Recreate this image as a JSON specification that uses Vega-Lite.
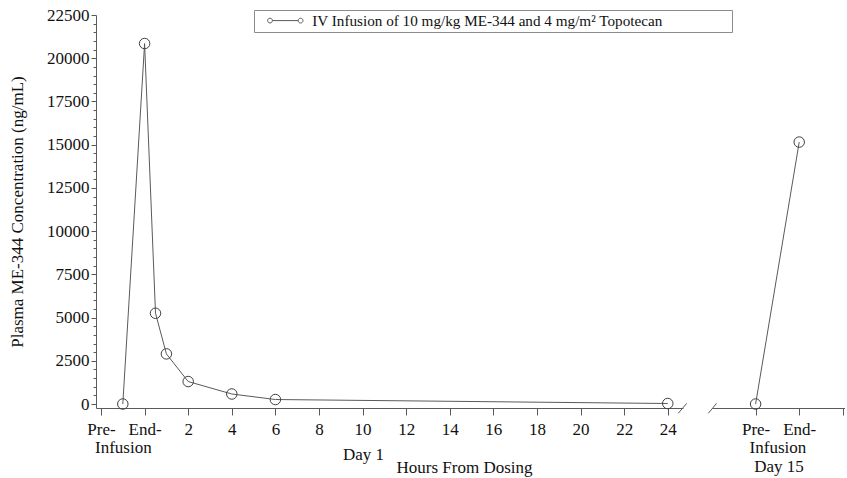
{
  "$schema": "https://vega.github.io/schema/vega-lite/v6.json",
  "padding": {"left": 8, "top": 6, "right": 0, "bottom": 12},
  "bounds": "flush",
  "spacing": 29,
  "config": {
    "view": {"stroke": null},
    "font": "Liberation Serif",
    "axis": {
      "grid": false,
      "domainColor": "#5a5a5a",
      "tickColor": "#5a5a5a",
      "labelFont": "Liberation Serif",
      "labelFontSize": 17,
      "labelColor": "#111111",
      "titleFont": "Liberation Serif",
      "titleFontSize": 17,
      "titleFontWeight": "normal",
      "titleColor": "#111111",
      "labelFlush": false,
      "labelOverlap": false
    }
  },
  "datasets": {
    "day1": [
      {"t": -1, "conc": 0, "series": "IV Infusion of 10 mg/kg ME-344 and 4 mg/m² Topotecan"},
      {"t": 0, "conc": 20850, "series": "IV Infusion of 10 mg/kg ME-344 and 4 mg/m² Topotecan"},
      {"t": 0.5, "conc": 5250, "series": "IV Infusion of 10 mg/kg ME-344 and 4 mg/m² Topotecan"},
      {"t": 1, "conc": 2900, "series": "IV Infusion of 10 mg/kg ME-344 and 4 mg/m² Topotecan"},
      {"t": 2, "conc": 1300, "series": "IV Infusion of 10 mg/kg ME-344 and 4 mg/m² Topotecan"},
      {"t": 4, "conc": 580, "series": "IV Infusion of 10 mg/kg ME-344 and 4 mg/m² Topotecan"},
      {"t": 6, "conc": 260, "series": "IV Infusion of 10 mg/kg ME-344 and 4 mg/m² Topotecan"},
      {"t": 24, "conc": 30, "series": "IV Infusion of 10 mg/kg ME-344 and 4 mg/m² Topotecan"}
    ],
    "day15": [
      {"t": 0, "conc": 0},
      {"t": 2, "conc": 15150}
    ],
    "break1": [{"x": 24.48, "x2": 24.87, "y": -540, "y2": 40}],
    "break15": [{"x": -2.17, "x2": -1.79, "y": -540, "y2": 40}]
  },
  "hconcat": [
    {
      "width": 587,
      "height": 393,
      "layer": [
        {
          "data": {"name": "day1"},
          "mark": {"type": "line", "strokeWidth": 1},
          "encoding": {
            "x": {
              "field": "t", "type": "quantitative",
              "scale": {"domain": [-2.23, 24.7], "nice": false, "zero": false},
              "axis": {
                "orient": "bottom",
                "values": [-2, 0, 2, 4, 6, 8, 10, 12, 14, 16, 18, 20, 22, 24],
                "labelExpr": "datum.value == -2 ? 'Pre-' : datum.value == 0 ? 'End-' : format(datum.value, 'd')",
                "tickSize": 7,
                "labelPadding": 6,
                "title": "Hours From Dosing",
                "titleX": 368,
                "titleY": 64,
                "titleBaseline": "alphabetic"
              }
            },
            "y": {
              "field": "conc", "type": "quantitative",
              "scale": {"domain": [-230, 22500], "nice": false, "zero": false},
              "axis": {
                "orient": "left",
                "values": [0, 2500, 5000, 7500, 10000, 12500, 15000, 17500, 20000, 22500],
                "format": "d",
                "tickSize": 5,
                "labelPadding": 2,
                "title": "Plasma ME-344 Concentration (ng/mL)",
                "titlePadding": 20
              }
            },
            "color": {
              "field": "series", "type": "nominal",
              "scale": {"range": ["#5a5a5a"]},
              "legend": {
                "orient": "none",
                "legendX": 158,
                "legendY": -5,
                "title": null,
                "strokeColor": "#8c8c8c",
                "padding": 3,
                "symbolType": "M-4.3,0L4.3,0M-4.3,0A0.8,0.8,0,1,1,-5.9,0A0.8,0.8,0,1,1,-4.3,0M5.9,0A0.8,0.8,0,1,1,4.3,0A0.8,0.8,0,1,1,5.9,0",
                "symbolSize": 36,
                "symbolStrokeColor": "#5a5a5a",
                "symbolFillColor": "transparent",
                "symbolStrokeWidth": 1,
                "symbolOffset": 20.7,
                "labelOffset": 19.3,
                "labelFont": "Liberation Serif",
                "labelFontSize": 15.2,
                "labelColor": "#111111",
                "labelLimit": 700,
                "labelExpr": "datum.label + '\u2800\u2800\u2800\u2800\u2800\u2800'"
              }
            }
          }
        },
        {
          "data": {"name": "day1"},
          "mark": {"type": "point", "shape": "circle", "filled": false, "size": 110, "strokeWidth": 1, "color": "#404040", "opacity": 1},
          "encoding": {
            "x": {"field": "t", "type": "quantitative", "axis": null},
            "y": {"field": "conc", "type": "quantitative", "axis": null}
          }
        },
        {
          "data": {"name": "break1"},
          "mark": {"type": "rule", "color": "#5a5a5a", "strokeWidth": 1},
          "encoding": {
            "x": {
              "field": "x", "type": "quantitative",
              "axis": {
                "orient": "bottom",
                "values": [-1],
                "labelExpr": "'Infusion'",
                "ticks": false,
                "tickSize": 0,
                "domain": false,
                "labelPadding": 31,
                "title": "Day 1",
                "titleX": 267,
                "titleY": 51,
                "titleBaseline": "alphabetic"
              }
            },
            "x2": {"field": "x2"},
            "y": {
              "field": "y", "type": "quantitative",
              "axis": {
                "orient": "left",
                "values": [500, 1000, 1500, 2000, 3000, 3500, 4000, 4500, 5500, 6000, 6500, 7000, 8000, 8500, 9000, 9500, 10500, 11000, 11500, 12000, 13000, 13500, 14000, 14500, 15500, 16000, 16500, 17000, 18000, 18500, 19000, 19500, 20500, 21000, 21500, 22000],
                "labels": false,
                "domain": false,
                "tickSize": 3,
                "title": null
              }
            },
            "y2": {"field": "y2"}
          }
        }
      ],
      "resolve": {"axis": {"x": "independent", "y": "independent"}}
    },
    {
      "width": 133,
      "height": 393,
      "layer": [
        {
          "data": {"name": "day15"},
          "mark": {"type": "line", "strokeWidth": 1, "color": "#5a5a5a"},
          "encoding": {
            "x": {
              "field": "t", "type": "quantitative",
              "scale": {"domain": [-2.0, 4.1], "nice": false, "zero": false},
              "axis": {
                "orient": "bottom",
                "values": [0, 2, 4],
                "labelExpr": "datum.value == 0 ? 'Pre-' : datum.value == 2 ? 'End-' : ''",
                "tickSize": 7,
                "labelPadding": 6,
                "title": null
              }
            },
            "y": {
              "field": "conc", "type": "quantitative",
              "scale": {"domain": [-230, 22500], "nice": false, "zero": false},
              "axis": null
            }
          }
        },
        {
          "data": {"name": "day15"},
          "mark": {"type": "point", "shape": "circle", "filled": false, "size": 110, "strokeWidth": 1, "color": "#404040", "opacity": 1},
          "encoding": {
            "x": {"field": "t", "type": "quantitative", "axis": null},
            "y": {"field": "conc", "type": "quantitative", "axis": null}
          }
        },
        {
          "data": {"name": "break15"},
          "mark": {"type": "rule", "color": "#5a5a5a", "strokeWidth": 1},
          "encoding": {
            "x": {
              "field": "x", "type": "quantitative",
              "axis": {
                "orient": "bottom",
                "values": [1],
                "labelExpr": "'Infusion'",
                "ticks": false,
                "tickSize": 0,
                "domain": false,
                "labelPadding": 31,
                "title": "Day 15",
                "titleY": 63,
                "titleBaseline": "alphabetic"
              }
            },
            "x2": {"field": "x2"},
            "y": {"field": "y", "type": "quantitative", "axis": null},
            "y2": {"field": "y2"}
          }
        }
      ],
      "resolve": {"axis": {"x": "independent", "y": "independent"}}
    }
  ]
}
